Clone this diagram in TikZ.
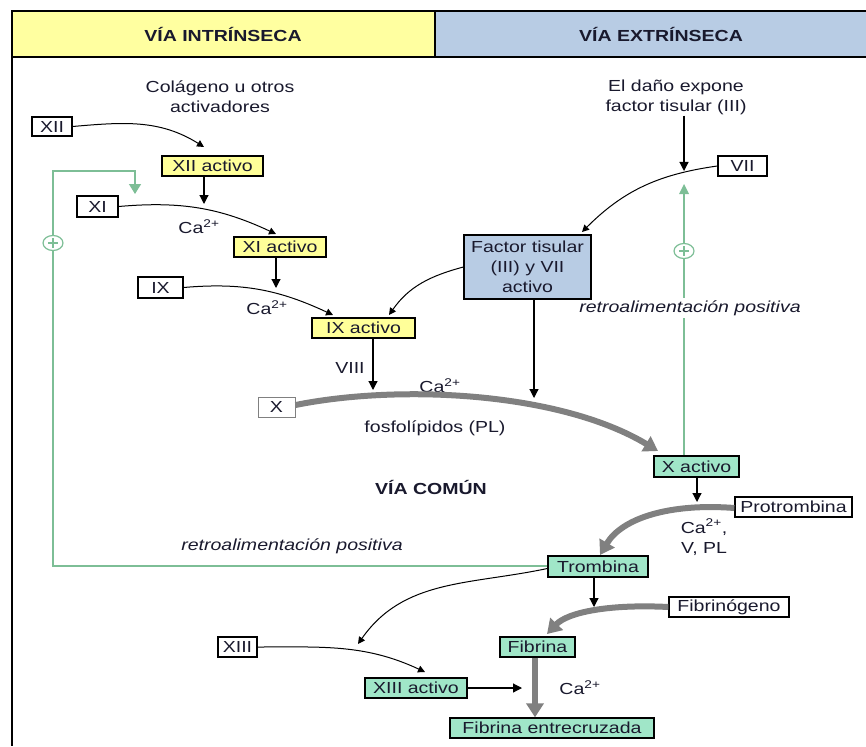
\documentclass[tikz,border=0pt]{standalone}
\usepackage{fontspec}
\setmainfont{Liberation Sans}[FakeStretch=1.22]
\usetikzlibrary{arrows.meta,calc,shapes.geometric}
\definecolor{hdryel}{RGB}{255,255,160}
\definecolor{boxyel}{RGB}{255,255,153}
\definecolor{hdrblue}{RGB}{184,204,228}
\definecolor{boxgreen}{RGB}{160,230,200}
\definecolor{fbgreen}{RGB}{125,190,150}
\definecolor{thickgray}{RGB}{128,128,128}
\definecolor{txt}{RGB}{25,25,45}
\begin{document}
\begin{tikzpicture}[x=1pt,y=-1pt,
  every node/.style={font=\fontsize{16}{20}\selectfont, text=txt},
  fbox/.style={draw=black, line width=1.3pt, inner sep=0pt, minimum height=20pt, anchor=center},
  wbox/.style={fbox, fill=white},
  ybox/.style={fbox, fill=boxyel},
  gbox/.style={fbox, fill=boxgreen},
  lbl/.style={inner sep=1pt, align=center},
  thin arr/.style={draw=black, line width=1pt, -{Triangle[length=7pt,width=7pt]}},
  down arr/.style={draw=black, line width=1.2pt, -{Triangle[length=9pt,width=9pt]}},
  thick arr/.style={draw=thickgray, line width=6pt, -{Triangle[length=14pt,width=17pt]}},
  fb line/.style={draw=fbgreen, line width=1.4pt},
  plus/.style={draw=fbgreen, fill=white, line width=1.2pt, ellipse, minimum width=20pt, minimum height=15pt, inner sep=0pt}
]
\useasboundingbox (0,0) rectangle (866,746);
% header
\fill[hdryel] (12,11) rectangle (435,57);
\fill[hdrblue] (435,11) rectangle (870,57);
\draw[line width=1.3pt] (866,11) -- (12,11) -- (12,746);
\draw[line width=1.3pt] (12,57) -- (866,57);
\draw[line width=1.3pt] (435,11) -- (435,57);
\node[font=\fontsize{16}{20}\selectfont\bfseries] (hin) at (223,34) {VÍA INTRÍNSECA};
\node[font=\fontsize{16}{20}\selectfont\bfseries] (hex) at (661,34) {VÍA EXTRÍNSECA};

% text labels
\node[lbl] (col) at (220,97) {Colágeno u otros\\activadores};
\node[lbl] (dano) at (676,97) {El daño expone\\factor tisular (III)};
\node[lbl] (ca1) at (199,227) {Ca\textsuperscript{2+}};
\node[lbl] (ca2) at (267,308) {Ca\textsuperscript{2+}};
\node[lbl] (ca3) at (440,386) {Ca\textsuperscript{2+}};
\node[lbl] (ca4) at (580,688) {Ca\textsuperscript{2+}};
\node[lbl] (ca5) at (704,537) {Ca\textsuperscript{2+},\\V, PL};
\node[lbl] (viii) at (350,368) {VIII};
\node[lbl] (fos) at (435,428) {fosfolípidos (PL)};
\node[lbl, font=\fontsize{16}{20}\selectfont\bfseries] (comun) at (431,487) {VÍA COMÚN};

% green feedback (drawn before boxes)
\coordinate (fbtop) at (684,186);
\draw[fb line] (684,456) -- (fbtop);
\fill[fbgreen] (684,184) -- (679,194) -- (689,194) -- cycle;
\node[lbl, fill=white, font=\fontsize{16}{20}\selectfont\itshape, inner sep=2pt] (retro1) at (690,308) {retroalimentación positiva};
\node[plus] (p1) at (684,251) {};
\draw[fbgreen, line width=1.4pt] (p1.center) ++(-5,0) -- ++(10,0) (p1.center) ++(0,-5) -- ++(0,10);

\coordinate (g1) at (53,566);
\coordinate (g2) at (53,171);
\coordinate (g3) at (135,171);
\coordinate (g4) at (135,194);
\draw[fb line, -{Triangle[length=10pt,width=12pt]}] (548,566) -- (g1) -- (g2) -- (g3) -- (g4);
\node[plus] (p2) at (53,243) {};
\draw[fbgreen, line width=1.4pt] (p2.center) ++(-5,0) -- ++(10,0) (p2.center) ++(0,-5) -- ++(0,10);
\node[lbl, font=\fontsize{16}{20}\selectfont\itshape] (retro2) at (292,546) {retroalimentación positiva};

% boxes
\node[wbox, minimum width=40pt, minimum height=19pt] (XII) at (52,126.5) {XII};
\node[ybox, minimum width=101pt] (XIIa) at (212.5,166) {XII activo};
\node[wbox, minimum width=41pt, minimum height=21pt] (XI) at (97.5,206.5) {XI};
\node[ybox, minimum width=92pt] (XIa) at (280,247) {XI activo};
\node[wbox, minimum width=45pt, minimum height=21pt] (IX) at (160.5,287.5) {IX};
\node[ybox, minimum width=103pt] (IXa) at (363.5,328) {IX activo};
\node[fbox, fill=hdrblue, minimum width=127pt, minimum height=64pt, align=center] (FT) at (527.5,267) {Factor tisular\\(III) y VII\\activo};
\node[wbox, minimum width=49pt] (VII) at (742.5,166) {VII};
\node[wbox, draw=gray, line width=1pt, minimum width=37pt] (X) at (276.5,407) {X};
\node[gbox, minimum width=85pt, minimum height=21pt] (Xa) at (696.5,466.5) {X activo};
\node[wbox, minimum width=117pt] (Prot) at (793.5,507) {Protrombina};
\node[gbox, minimum width=100pt, minimum height=21pt] (Trom) at (598,566.5) {Trombina};
\node[wbox, minimum width=120pt] (Fibg) at (729,607) {Fibrinógeno};
\node[gbox, minimum width=75pt] (Fib) at (537.5,647) {Fibrina};
\node[wbox, minimum width=39pt] (XIII) at (237.5,647) {XIII};
\node[gbox, minimum width=102pt] (XIIIa) at (416,688) {XIII activo};
\node[gbox, minimum width=204pt] (FibE) at (552,728) {Fibrina entrecruzada};

% free-end coordinates
\coordinate (t1) at (204,147);
\coordinate (t2) at (276,234);
\coordinate (t3) at (333,315);
\coordinate (t4) at (389,315);
\coordinate (t5) at (582,232);
\coordinate (t6) at (358,644);
\coordinate (t7) at (425,672);
\coordinate (t8) at (522,688);
\coordinate (d1) at (204,204);
\coordinate (d2) at (276,288);
\coordinate (d3) at (373,390);
\coordinate (d4) at (534,398);
\coordinate (d5) at (684,171);
\coordinate (d6) at (697,502);
\coordinate (d7) at (594,607);
\coordinate (k1) at (658,451);
\coordinate (k2) at (600,555);
\coordinate (k3) at (547,634);
\coordinate (k4) at (535,0);

% thin curved arrows
\draw[thin arr] (XII.east) to[out=5,in=148] (t1);
\draw[thin arr] (XI.east) to[out=5,in=155] (t2);
\draw[thin arr] (IX.east) to[out=5,in=155] (t3);
\draw[thin arr] (FT.west) to[out=195,in=55] (t4);
\draw[thin arr] (VII.west) to[out=188,in=45] (t5);
\draw[thin arr] ([yshift=-2pt]Trom.west) to[out=192,in=55] (t6);
\draw[thin arr] (XIII.east) to[out=0,in=155] (t7);
\draw[down arr] (XIIIa.east) -- (t8);

% vertical arrows
\draw[down arr] (XIIa.south -| d1) -- (d1);
\draw[down arr] (XIa.south -| d2) -- (d2);
\draw[down arr] (IXa.south -| d3) -- (d3);
\draw[down arr] (FT.south -| d4) -- (d4);
\draw[down arr] (dano.south -| d5) -- (d5);
\draw[down arr] (Xa.south -| d6) -- (d6);
\draw[down arr] (Trom.south -| d7) -- (d7);

% thick grey arrows
\draw[thick arr] ([yshift=2pt]X.east) .. controls (400,384) and (560,392) .. (k1);
\draw[thick arr] ([yshift=-1pt]Prot.west) .. controls (670,503) and (622,518) .. (k2);
\draw[thick arr] (Fibg.west) .. controls (610,604) and (568,612) .. (k3);
\draw[thick arr] (Fib.south -| k4) -- (FibE.north -| k4);
\end{tikzpicture}
\end{document}
